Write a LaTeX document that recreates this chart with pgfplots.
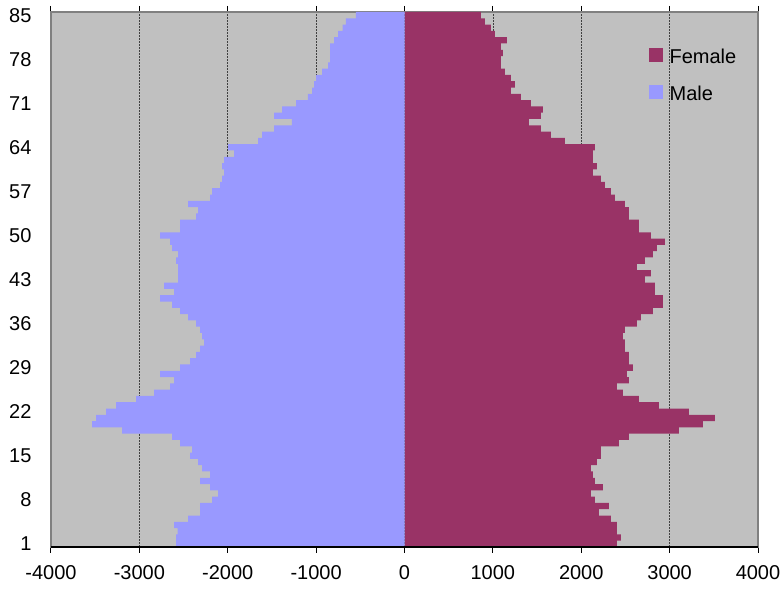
\documentclass[border=0pt]{standalone}
\usepackage{pgfplots}
\usepackage{pgfplotstable}
\pgfplotsset{compat=1.18}
\usepackage{fontspec}
\setmainfont{Liberation Sans}

\definecolor{female}{HTML}{993366}
\definecolor{male}{HTML}{9999FF}
\definecolor{plotbg}{HTML}{C0C0C0}
\definecolor{frame}{HTML}{808080}

% population by single year of age
\pgfplotstableread{
age male female
1 -2585 2403
2 -2585 2449
3 -2566 2403
4 -2607 2403
5 -2449 2336
6 -2313 2200
7 -2313 2313
8 -2178 2155
9 -2110 2109
10 -2200 2245
11 -2313 2155
12 -2200 2132
13 -2291 2109
14 -2336 2177
15 -2426 2222
16 -2404 2222
17 -2539 2426
18 -2630 2539
19 -3196 3105
20 -3535 3376
21 -3490 3512
22 -3377 3218
23 -3264 2878
24 -3037 2652
25 -2834 2471
26 -2653 2403
27 -2607 2539
28 -2766 2516
29 -2539 2584
30 -2426 2539
31 -2358 2539
32 -2313 2494
33 -2268 2494
34 -2291 2471
35 -2313 2494
36 -2358 2630
37 -2449 2675
38 -2539 2811
39 -2630 2924
40 -2766 2924
41 -2607 2833
42 -2721 2833
43 -2562 2720
44 -2562 2788
45 -2562 2630
46 -2585 2720
47 -2562 2811
48 -2630 2856
49 -2653 2946
50 -2766 2788
51 -2539 2652
52 -2539 2652
53 -2358 2539
54 -2336 2539
55 -2449 2494
56 -2200 2381
57 -2178 2336
58 -2087 2268
59 -2065 2222
60 -2042 2132
61 -2065 2177
62 -2042 2132
63 -1929 2132
64 -1997 2155
65 -1657 1815
66 -1612 1657
67 -1476 1544
68 -1273 1408
69 -1476 1544
70 -1386 1566
71 -1227 1431
72 -1092 1318
73 -1046 1205
74 -1024 1250
75 -1001 1205
76 -933 1137
77 -865 1091
78 -843 1091
79 -843 1114
80 -843 1091
81 -797 1159
82 -752 1024
83 -700 978
84 -662 910
85 -549 865
}\pyramid

\begin{document}
\begin{tikzpicture}
\begin{axis}[
  name=ax,
  scale only axis,
  width=707pt, height=535pt,
  xmin=-4000, xmax=4000,
  ymin=0.5, ymax=85.5,
  xtick={-4000,-3000,...,4000},
  ytick={1,8,...,85},
  scaled x ticks=false,
  xticklabel style={/pgf/number format/1000 sep={}, yshift=-9pt},
  yticklabel style={xshift=-10pt},
  /pgf/number format/assume math mode=true,
  tick label style={font=\fontsize{20}{24}\selectfont},
  tick align=outside,
  major tick length=6pt,
  xtick style={black, line width=1pt},
  ytick style={draw=none},
  xmajorgrids,
  major grid style={black!75, line width=0.6pt, dash pattern=on 1.5pt off 1.5pt},
  axis background/.style={fill=plotbg},
  axis line style={frame, line width=1.2pt},
  xbar, bar width=1, bar shift=0pt,
  legend style={at={(0.845,0.935)}, anchor=north west, draw=none, fill=none,
    font=\fontsize{20}{24}\selectfont, row sep=17pt, inner sep=0pt},
  legend cell align=left,
  after end axis/.code={
    \draw[black, line width=1.2pt] (rel axis cs:0,0) -- (rel axis cs:1,0);
  },
]
\addplot[fill=female, draw=none,
  legend image code/.code={\fill[female] (0pt,-5pt) rectangle (14pt,9pt);
    \path (19pt,0pt);}]
  table[x=female, y=age] {\pyramid};
\addlegendentry{Female}
\addplot[fill=male, draw=none,
  legend image code/.code={\fill[male] (0pt,-5pt) rectangle (14pt,9pt);
    \path (19pt,0pt);}]
  table[x=male, y=age] {\pyramid};
\addlegendentry{Male}
\end{axis}
\pgfresetboundingbox
\path[use as bounding box] (ax.south west) ++(-51pt,-47pt) rectangle ++(782pt,594pt);
\end{tikzpicture}
\end{document}
